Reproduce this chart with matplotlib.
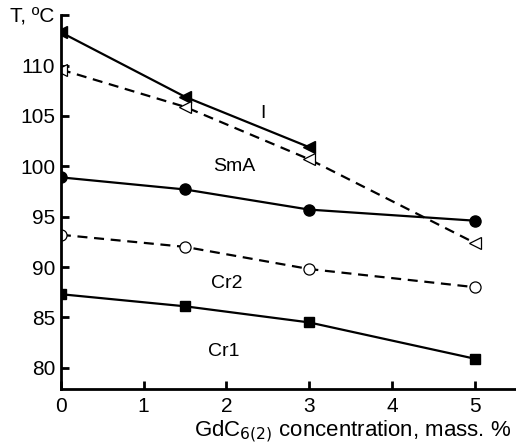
import matplotlib
matplotlib.use("Agg")
from matplotlib import pyplot as plt

plt.rcParams['font.family'] = ['Liberation Sans', 'DejaVu Sans']

# concentration, mass. %
x_tri = [0, 1.5, 3]
x_all = [0, 1.5, 3, 5]

# transition temperatures, deg C
T_iso_heat = [113.3, 106.9, 101.9]          # filled triangles, solid
T_iso_cool = [109.6, 105.9, 100.7, 92.4]    # open triangles, dashed
T_sma = [98.9, 97.7, 95.7, 94.6]            # filled circles, solid
T_cr2 = [93.2, 92.0, 89.8, 88.0]            # open circles, dashed
T_cr1 = [87.3, 86.1, 84.5, 80.9]            # filled squares, solid

fig = plt.figure(figsize=(5.16, 4.47), dpi=100)
ax = fig.add_axes([0.118, 0.130, 0.882, 0.836])

dash = (0, (4.5, 3))
lines = []
lines += ax.plot(x_tri, T_iso_heat, '-', color='black', lw=1.6, marker='<', ms=9,
                 mfc='black', mec='black')
lines += ax.plot(x_all, T_iso_cool, color='black', lw=1.6, ls=dash, marker='<', ms=9,
                 mfc='white', mec='black', mew=0.9)
lines += ax.plot(x_all, T_sma, '-', color='black', lw=1.6, marker='o', ms=8,
                 mfc='black', mec='black')
lines += ax.plot(x_all, T_cr2, color='black', lw=1.6, ls=dash, marker='o', ms=8,
                 mfc='white', mec='black', mew=0.9)
lines += ax.plot(x_all, T_cr1, '-', color='black', lw=1.6, marker='s', ms=7,
                 mfc='black', mec='black')
for ln in lines:
    ln.set_clip_path(ax.patch)

ax.text(2.44, 105.2, "I", fontsize=14, ha='center', va='center')
ax.text(2.09, 100.0, "SmA", fontsize=14, ha='center', va='center')
ax.text(2.0, 88.4, "Cr2", fontsize=14, ha='center', va='center')
ax.text(1.97, 81.6, "Cr1", fontsize=14, ha='center', va='center')

ax.set_xlim(0, 5.5)
ax.set_ylim(77.9, 115)
ax.set_xticks([0, 1, 2, 3, 4, 5])
ax.set_yticks([80, 85, 90, 95, 100, 105, 110, 115])
ax.set_yticklabels(['80', '85', '90', '95', '100', '105', '110', ''])

for s in ['top', 'right']:
    ax.spines[s].set_visible(False)
for s in ['left', 'bottom']:
    ax.spines[s].set_linewidth(2)
    ax.spines[s].set_zorder(5)
ax.tick_params(direction='in', length=6, width=2, labelsize=15, pad=6)
ax.tick_params(axis='y', pad=4)

fig.text(0.02, 0.963, "T, ºC", fontsize=15, ha='left', va='center')
fig.text(0.99, 0.035, "GdC$_{6(2)}$ concentration, mass. %", fontsize=16,
         ha='right', va='center')

fig.savefig("out.png", dpi=100)
